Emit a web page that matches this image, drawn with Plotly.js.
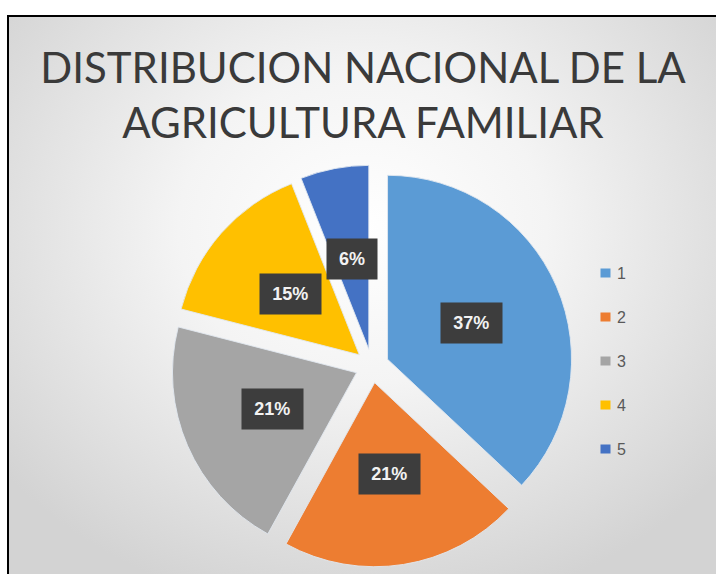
<!DOCTYPE html>
<html>
<head>
<meta charset="utf-8">
<script src="https://cdn.plot.ly/plotly-3.0.1.min.js"></script>
<style>
  html, body { margin: 0; padding: 0; background: #ffffff; }
  #bg {
    position: absolute; left: 7px; top: 15px; width: 707px; height: 557px;
    border-left: 2px solid #000; border-top: 2px solid #000;
    background: radial-gradient(ellipse 65% 70% at 50% 38%, #ffffff 0%, #f4f4f4 40%, #dedede 80%, #d3d3d3 100%);
  }
  #chart { position: absolute; left: 0; top: 0; width: 716px; height: 583px; }
</style>
</head>
<body>
<div id="bg"></div>
<div id="chart"></div>
<script>
// ---- data ----
const categories = ['1', '2', '3', '4', '5'];
const shares = [37, 21, 21, 15, 6];
const sliceColors = ['#5B9BD5', '#ED7D31', '#A5A5A5', '#FFC000', '#4472C4'];
const chartTitle = 'DISTRIBUCION NACIONAL DE LA<br>AGRICULTURA FAMILIAR';

// ---- layout constants ----
const W = 716, H = 583;
const cx = 372, cy = 366, R = 184, pull = 0.092;
const half = R * (1 + pull);
const px2x = p => p / W;
const px2y = p => 1 - p / H;

const total = shares.reduce((a, b) => a + b, 0);
const annotations = [];
let cum = 0;
shares.forEach((v, i) => {
  const m = (cum + v / 2) / total;
  cum += v;
  const th = 2 * Math.PI * m;
  const d = R * (pull + 0.5);
  const txt = Math.round(v / total * 100) + '%';
  annotations.push({
    x: px2x(cx + d * Math.sin(th)), y: px2y(cy - d * Math.cos(th)),
    xref: 'paper', yref: 'paper', showarrow: false,
    text: txt, xanchor: 'center', yanchor: 'middle',
    font: { family: 'Liberation Sans, Arial, sans-serif', size: 18, color: '#f2f2f2', weight: 'bold' },
    bgcolor: '#3d3d3d', borderpad: 10,
    width: txt.length * 10.5 + 9, height: 20
  });
});

// legend (custom, spaced like the original)
const legX = 605, legY0 = 273, legStep = 44;
categories.forEach((c, i) => {
  annotations.push({
    x: px2x(legX), y: px2y(legY0 + i * legStep), xref: 'paper', yref: 'paper',
    showarrow: false, text: ' ', bgcolor: sliceColors[i], width: 9, height: 8,
    borderpad: 0, xanchor: 'center', yanchor: 'middle', font: { size: 2 }
  });
  annotations.push({
    x: px2x(legX + 10), y: px2y(legY0 + i * legStep), xref: 'paper', yref: 'paper',
    showarrow: false, text: c, xanchor: 'left', yanchor: 'middle',
    font: { family: 'Liberation Sans, Arial, sans-serif', size: 16, color: '#595959' }
  });
});

const trace = {
  type: 'pie',
  labels: categories,
  values: shares,
  sort: false,
  direction: 'clockwise',
  rotation: 0,
  pull: pull,
  textinfo: 'none',
  hoverinfo: 'label+percent',
  marker: { colors: sliceColors, line: { color: 'rgba(225,232,240,0.9)', width: 1 } },
  domain: { x: [px2x(cx - half), px2x(cx + half)], y: [px2y(cy + half), px2y(cy - half)] }
};

const layout = {
  width: W, height: H,
  margin: { l: 0, r: 0, t: 0, b: 0 },
  paper_bgcolor: 'rgba(0,0,0,0)',
  plot_bgcolor: 'rgba(0,0,0,0)',
  showlegend: false,
  title: {
    text: chartTitle,
    x: 363 / W, xanchor: 'center', xref: 'paper',
    y: 1 - 83 / H, yanchor: 'top', yref: 'container',
    font: { family: 'Lato, Open Sans, sans-serif', size: 42, color: '#3a3a3a' }
  },
  annotations: annotations
};

Plotly.newPlot('chart', [trace], layout, { displayModeBar: false, staticPlot: true });
</script>
</body>
</html>
